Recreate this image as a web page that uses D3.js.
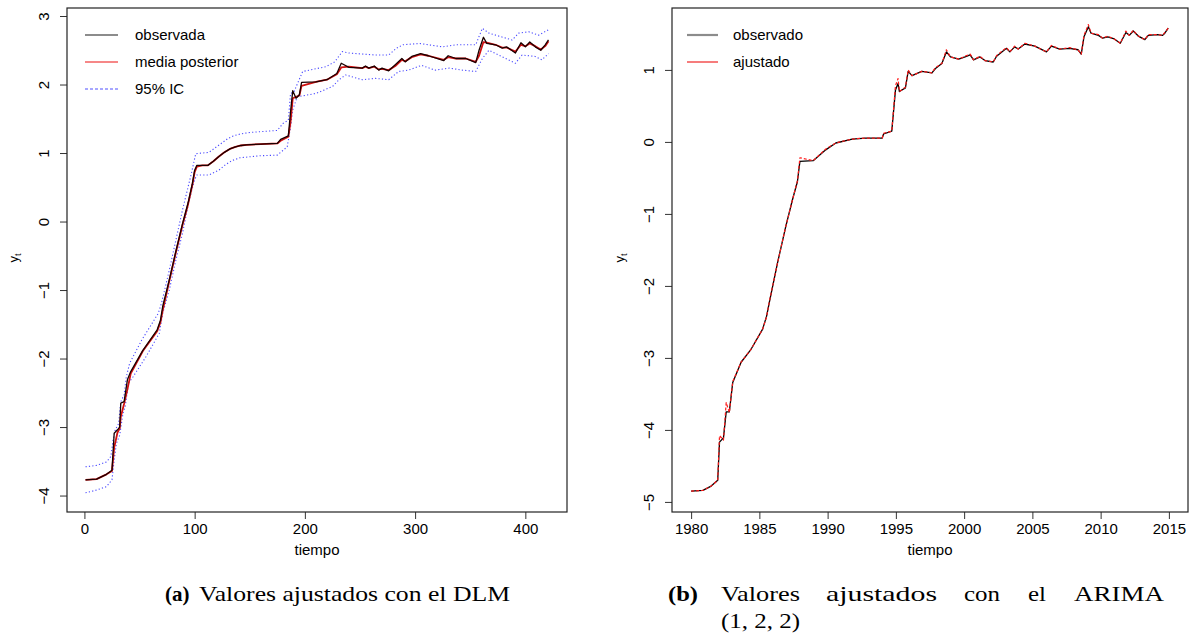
<!DOCTYPE html>
<html>
<head>
<meta charset="utf-8">
<script src="https://cdn.jsdelivr.net/npm/d3@7"></script>
<style>
  body { margin: 0; background: #fff; }
  svg { display: block; }
  .tick text, .lab { font-family: "Liberation Sans", Arial, sans-serif; font-size: 15px; fill: #000; }
  .cap { font-family: "Liberation Serif", "Times New Roman", serif; font-size: 21px; fill: #000; }
</style>
</head>
<body>
<script>
// ---- panel (a): DLM, tiempo = 1..421 ----
var obsT = [1, 11, 20, 25, 27, 30, 32, 33, 36, 39, 42, 53, 66, 69, 71, 77, 83, 89, 94, 98, 100, 102, 107, 112, 117, 122, 127, 132, 137, 142, 147, 160, 175, 178, 185, 187, 189, 192, 195, 197, 210, 220, 229, 233, 240, 252, 255, 258, 263, 267, 270, 276, 282, 288, 291, 297, 305, 312, 326, 330, 337, 346, 355, 358, 362, 365, 373, 379, 383, 391, 396, 400, 404, 409, 414, 418, 421];
var obsY = [-3.77, -3.76, -3.69, -3.63, -3.09, -3.04, -3.0, -2.65, -2.63, -2.31, -2.19, -1.88, -1.58, -1.44, -1.24, -0.85, -0.43, -0.03, 0.27, 0.56, 0.75, 0.82, 0.82, 0.82, 0.88, 0.95, 1.01, 1.06, 1.09, 1.11, 1.12, 1.13, 1.14, 1.2, 1.25, 1.6, 1.91, 1.8, 1.85, 2.03, 2.04, 2.07, 2.16, 2.31, 2.25, 2.24, 2.27, 2.24, 2.27, 2.21, 2.24, 2.2, 2.29, 2.38, 2.33, 2.41, 2.45, 2.42, 2.35, 2.42, 2.38, 2.38, 2.32, 2.5, 2.69, 2.6, 2.58, 2.53, 2.55, 2.46, 2.61, 2.55, 2.62, 2.55, 2.5, 2.58, 2.65];
// media posterior (same times as obsT)
var meanY = [-3.77, -3.76, -3.69, -3.64, -3.3, -3.08, -3.02, -2.85, -2.66, -2.45, -2.22, -1.89, -1.6, -1.47, -1.3, -0.87, -0.45, -0.05, 0.25, 0.54, 0.72, 0.8, 0.82, 0.82, 0.88, 0.95, 1.01, 1.06, 1.09, 1.11, 1.12, 1.13, 1.14, 1.18, 1.24, 1.45, 1.8, 1.82, 1.84, 1.98, 2.04, 2.07, 2.15, 2.25, 2.26, 2.24, 2.26, 2.24, 2.26, 2.22, 2.23, 2.21, 2.27, 2.36, 2.34, 2.4, 2.44, 2.42, 2.36, 2.4, 2.38, 2.38, 2.33, 2.42, 2.62, 2.61, 2.58, 2.54, 2.54, 2.48, 2.58, 2.56, 2.6, 2.56, 2.51, 2.56, 2.63];
var upT = [1, 11, 20, 24, 26, 28, 31, 33, 36, 38, 41, 52, 67, 70, 77, 83, 89, 97, 101, 113, 119, 125, 130, 135, 142, 150, 175, 180, 185, 187, 190, 198, 219, 227, 234, 240, 264, 276, 283, 289, 304, 325, 337, 355, 358, 361, 367, 388, 394, 403, 412, 421];
var upY = [-3.58, -3.56, -3.51, -3.43, -3.19, -3.04, -2.95, -2.63, -2.53, -2.27, -2.07, -1.73, -1.34, -1.19, -0.71, -0.27, 0.17, 0.7, 0.99, 1.01, 1.08, 1.15, 1.21, 1.25, 1.28, 1.3, 1.33, 1.43, 1.48, 1.87, 1.89, 2.19, 2.26, 2.33, 2.48, 2.46, 2.43, 2.43, 2.53, 2.58, 2.6, 2.55, 2.58, 2.58, 2.7, 2.82, 2.75, 2.65, 2.75, 2.77, 2.72, 2.8];
var loT = [1, 11, 20, 25, 27, 29, 32, 35, 37, 40, 44, 56, 68, 71, 77, 83, 89, 95, 100, 102, 113, 122, 128, 134, 141, 159, 175, 184, 187, 189, 193, 210, 225, 231, 237, 252, 264, 276, 285, 294, 306, 318, 331, 343, 355, 361, 367, 391, 397, 409, 415, 421];
var loY = [-3.96, -3.92, -3.87, -3.77, -3.48, -3.24, -3.12, -2.8, -2.7, -2.36, -2.27, -1.97, -1.63, -1.34, -1.0, -0.56, -0.17, 0.31, 0.61, 0.68, 0.68, 0.75, 0.83, 0.89, 0.93, 0.96, 0.97, 1.09, 1.38, 1.63, 1.82, 1.87, 1.97, 2.07, 2.14, 2.07, 2.09, 2.07, 2.19, 2.21, 2.28, 2.21, 2.24, 2.21, 2.19, 2.38, 2.5, 2.31, 2.43, 2.41, 2.36, 2.45];
var ticksXa = [0, 100, 200, 300, 400];
var ticksYa = [-4, -3, -2, -1, 0, 1, 2, 3];
var legendA = ["observada", "media posterior", "95% IC"];

// ---- panel (b): ARIMA(1,2,2), monthly 1980-2015 ----
var yrT = [1980.0, 1980.86, 1981.47, 1981.95, 1982.08, 1982.37, 1982.57, 1982.8, 1983.05, 1983.66, 1984.39, 1985.24, 1985.53, 1985.73, 1986.33, 1986.94, 1987.43, 1987.79, 1987.97, 1988.94, 1989.86, 1990.6, 1991.8, 1992.78, 1994.0, 1994.1, 1994.7, 1994.97, 1995.16, 1995.26, 1995.7, 1995.9, 1996.18, 1996.9, 1997.64, 1997.9, 1998.37, 1998.7, 1999.0, 1999.6, 2000.07, 2000.44, 2000.69, 2001.16, 2001.53, 2002.13, 2002.38, 2003.1, 2003.35, 2003.7, 2003.96, 2004.45, 2005.18, 2006.03, 2006.4, 2007.0, 2007.73, 2008.34, 2008.58, 2008.78, 2009.1, 2009.3, 2009.84, 2010.15, 2010.52, 2011.0, 2011.44, 2011.85, 2012.1, 2012.39, 2012.76, 2013.24, 2013.49, 2014.17, 2014.54, 2014.7, 2014.95];
var obsB = [-4.85, -4.84, -4.78, -4.7, -4.17, -4.11, -3.75, -3.75, -3.34, -3.06, -2.88, -2.6, -2.42, -2.23, -1.68, -1.17, -0.8, -0.55, -0.27, -0.26, -0.11, -0.015, 0.04, 0.054, 0.054, 0.11, 0.15, 0.72, 0.81, 0.7, 0.75, 0.98, 0.92, 0.98, 0.96, 1.02, 1.09, 1.25, 1.18, 1.15, 1.18, 1.21, 1.14, 1.18, 1.13, 1.11, 1.19, 1.3, 1.25, 1.32, 1.29, 1.36, 1.33, 1.25, 1.33, 1.29, 1.3, 1.28, 1.22, 1.46, 1.6, 1.51, 1.48, 1.44, 1.46, 1.43, 1.37, 1.52, 1.48, 1.54, 1.47, 1.42, 1.48, 1.49, 1.48, 1.51, 1.58];
var fitB = [-4.85, -4.84, -4.78, -4.7, -4.08, -4.14, -3.62, -3.76, -3.33, -3.06, -2.88, -2.6, -2.43, -2.22, -1.68, -1.17, -0.8, -0.54, -0.22, -0.26, -0.1, -0.015, 0.04, 0.054, 0.054, 0.12, 0.15, 0.78, 0.88, 0.7, 0.76, 1.0, 0.92, 0.98, 0.96, 1.03, 1.09, 1.28, 1.18, 1.15, 1.19, 1.22, 1.14, 1.19, 1.13, 1.11, 1.2, 1.31, 1.25, 1.33, 1.29, 1.37, 1.33, 1.25, 1.34, 1.29, 1.31, 1.28, 1.22, 1.48, 1.63, 1.51, 1.49, 1.44, 1.47, 1.43, 1.37, 1.54, 1.48, 1.55, 1.47, 1.42, 1.49, 1.49, 1.48, 1.52, 1.58];
var ticksXb = [1980, 1985, 1990, 1995, 2000, 2005, 2010, 2015];
var ticksYb = [-5, -4, -3, -2, -1, 0, 1];
var legendB = ["observado", "ajustado"];

var W = 1198, H = 642;
var svg = d3.select("body").append("svg").attr("width", W).attr("height", H);

function frame(x, y, tx, ty, cx) {
    var g = svg.append("g");
    var r = x.range(), b = y.range();
    g.append("g")
        .attr("transform", "translate(0," + b[0] + ")")
        .call(d3.axisBottom(x).tickValues(tx).tickSize(7).tickPadding(4).tickFormat(d3.format("d")))
        .call(function (s) { s.select(".domain").remove(); });
    var ya = g.append("g")
        .attr("transform", "translate(" + r[0] + ",0)")
        .call(d3.axisLeft(y).tickValues(ty).tickSize(7).tickFormat(d3.format("d")));
    ya.select(".domain").remove();
    ya.selectAll(".tick text")
        .attr("x", null).attr("dy", null)
        .attr("text-anchor", "middle")
        .attr("transform", "translate(-18,0) rotate(-90)");
    g.selectAll(".tick line").attr("stroke", "#333");
    g.append("rect")
        .attr("x", r[0]).attr("y", b[1])
        .attr("width", r[1] - r[0]).attr("height", b[0] - b[1])
        .attr("fill", "none").attr("stroke", "#222").attr("stroke-width", 1.2);
    g.append("text").attr("class", "lab")
        .attr("x", (r[0] + r[1]) / 2).attr("y", 555)
        .attr("text-anchor", "middle").text("tiempo");
    var yl = g.append("text").attr("class", "lab")
        .attr("transform", "translate(" + cx + ",258) rotate(-90)")
        .attr("text-anchor", "middle").style("font-size", "13px");
    yl.append("tspan").text("y");
    yl.append("tspan").attr("dy", 3).style("font-size", "9px").text("t");
    return g;
}

function legend(x0, x1, tx, items) {
    items.forEach(function (it, i) {
        var yy = 35 + i * 27;
        svg.append("line")
            .attr("x1", x0).attr("x2", x1).attr("y1", yy).attr("y2", yy)
            .attr("stroke", it.c).attr("stroke-width", it.w)
            .attr("stroke-dasharray", it.d || null);
        svg.append("text").attr("class", "lab")
            .attr("x", tx).attr("y", yy).attr("dy", "0.35em").text(it.t);
    });
}

function path(x, y, T, Y, col, w, dash) {
    svg.append("path")
        .datum(d3.zip(T, Y))
        .attr("d", d3.line().x(function (d) { return x(d[0]); }).y(function (d) { return y(d[1]); }))
        .attr("fill", "none")
        .attr("stroke", col)
        .attr("stroke-width", w)
        .attr("stroke-linejoin", "round")
        .attr("stroke-dasharray", dash || null);
}

// panel (a)
var xa = d3.scaleLinear().domain([-15.8, 437.8]).range([67, 567]);
var ya = d3.scaleLinear().domain([-4.24, 3.117]).range([512, 8]);
frame(xa, ya, ticksXa, ticksYa, 18);
path(xa, ya, upT, upY, "#4a4aff", 1.1, "1.2,2.2");
path(xa, ya, loT, loY, "#4a4aff", 1.1, "1.2,2.2");
path(xa, ya, obsT, meanY, "#d01010", 1.8);
path(xa, ya, obsT, obsY, "#1a0000", 1.3);
legend(85, 118, 135, [
    { t: legendA[0], c: "#8c8c8c", w: 2.2 },
    { t: legendA[1], c: "#ee1111", w: 1.1 },
    { t: legendA[2], c: "#5050ff", w: 1.2, d: "3,2" }
]);

// panel (b)
var xb = d3.scaleLinear().domain([1978.6, 2016.4]).range([672, 1188]);
var yb = d3.scaleLinear().domain([-5.14, 1.86]).range([512, 8]);
frame(xb, yb, ticksXb, ticksYb, 624);
path(xb, yb, yrT, obsB, "#000", 1.3);
path(xb, yb, yrT, fitB, "#ff1a1a", 1.2, "3,2");
legend(687, 718, 733, [
    { t: legendB[0], c: "#8c8c8c", w: 2.2 },
    { t: legendB[1], c: "#ee1111", w: 1.1 }
]);

// captions
var capA = svg.append("text").attr("class", "cap").attr("y", 601);
capA.append("tspan").attr("x", 165).style("font-weight", "bold").text("(a)");
svg.append("text").attr("class", "cap").attr("x", 199).attr("y", 601)
    .attr("textLength", 311).attr("lengthAdjust", "spacingAndGlyphs")
    .text("Valores ajustados con el DLM");

var wordsB = [["(b)", 668, 30, true], ["Valores", 721, 79], ["ajustados", 826, 111], ["con", 964, 36], ["el", 1028, 18], ["ARIMA", 1074, 90]];
wordsB.forEach(function (w) {
    svg.append("text").attr("class", "cap")
        .attr("x", w[1]).attr("y", 601)
        .attr("textLength", w[2]).attr("lengthAdjust", "spacingAndGlyphs")
        .style("font-weight", w[3] ? "bold" : null)
        .text(w[0]);
});
svg.append("text").attr("class", "cap").attr("x", 721).attr("y", 628)
    .attr("textLength", 79).attr("lengthAdjust", "spacingAndGlyphs")
    .text("(1, 2, 2)");
</script>
</body>
</html>
